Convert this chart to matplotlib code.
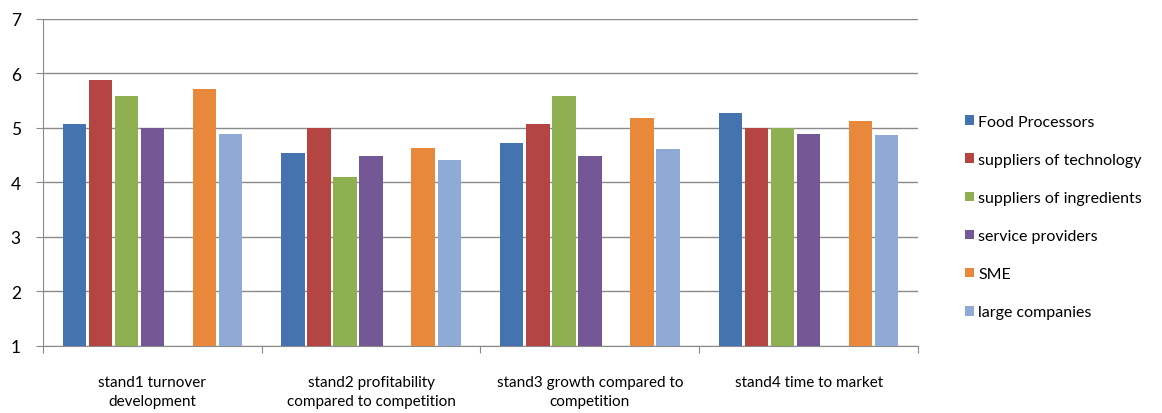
import numpy as np
import matplotlib
matplotlib.use("Agg")
import matplotlib.pyplot as plt

plt.rcParams['font.family'] = ['Lato', 'DejaVu Sans']

categories = [
    "stand1 turnover\ndevelopment",
    "stand2 profitability\ncompared to competition",
    "stand3 growth compared to\ncompetition",
    "stand4 time to market",
]
series_names = [
    "Food Processors",
    "suppliers of technology",
    "suppliers of ingredients",
    "service providers",
    "SME",
    "large companies",
]
food_processors = [5.07, 4.54, 4.72, 5.27]
suppliers_technology = [5.87, 5.00, 5.07, 5.00]
suppliers_ingredients = [5.59, 4.10, 5.59, 5.00]
service_providers = [5.00, 4.48, 4.48, 4.89]
sme = [5.72, 4.63, 5.19, 5.12]
large_companies = [4.89, 4.42, 4.62, 4.87]

values = [food_processors, suppliers_technology, suppliers_ingredients,
          service_providers, sme, large_companies]
colors = ["#4573B0", "#B44543", "#8FB050", "#745896", "#E8883A", "#90AAD6"]
# slot 4 of 7 stays empty inside each group
slots = [0, 1, 2, 3, 5, 6]

fig = plt.figure(figsize=(11.62, 4.14), dpi=100)
ax = fig.add_axes([0.037, 0.162, 0.753, 0.790])

x = np.arange(len(categories))
slot_w = 0.119
bar_w = 0.107
for vals, col, k, name in zip(values, colors, slots, series_names):
    h = np.array(vals) - 1
    ax.bar(x + (k - 3) * slot_w, h, bottom=1, width=bar_w, color=col,
           label=name, zorder=3)

ax.set_xlim(-0.5, len(categories) - 0.5)
ax.set_ylim(1, 7)
ax.set_yticks(range(1, 8))
ax.yaxis.grid(True, color="#8A8A8A", linewidth=1.0, zorder=0)

# category boundaries carry the tick marks, labels sit at the centres
ax.set_xticks(np.arange(-0.5, len(categories)), labels=[])
ax.set_xticks(x, labels=categories, minor=True)
ax.tick_params(axis="x", which="major", length=5, color="#8A8A8A", direction="out")
ax.tick_params(axis="x", which="minor", length=0, pad=21, labelsize=11)
ax.tick_params(axis="y", length=5, color="#8A8A8A", labelsize=12.5, pad=11)
for lbl in ax.get_xticklabels(minor=True):
    lbl.set_linespacing(1.45)

for side in ["top", "right"]:
    ax.spines[side].set_visible(False)
for side in ["left", "bottom"]:
    ax.spines[side].set_color("#8A8A8A")

fig.legend(loc="upper left", bbox_to_anchor=(0.818, 0.755), frameon=False,
           fontsize=11.5, labelspacing=1.51, handlelength=0.55, handleheight=0.55,
           handletextpad=0.3)

fig.savefig("out.png", dpi=100)
